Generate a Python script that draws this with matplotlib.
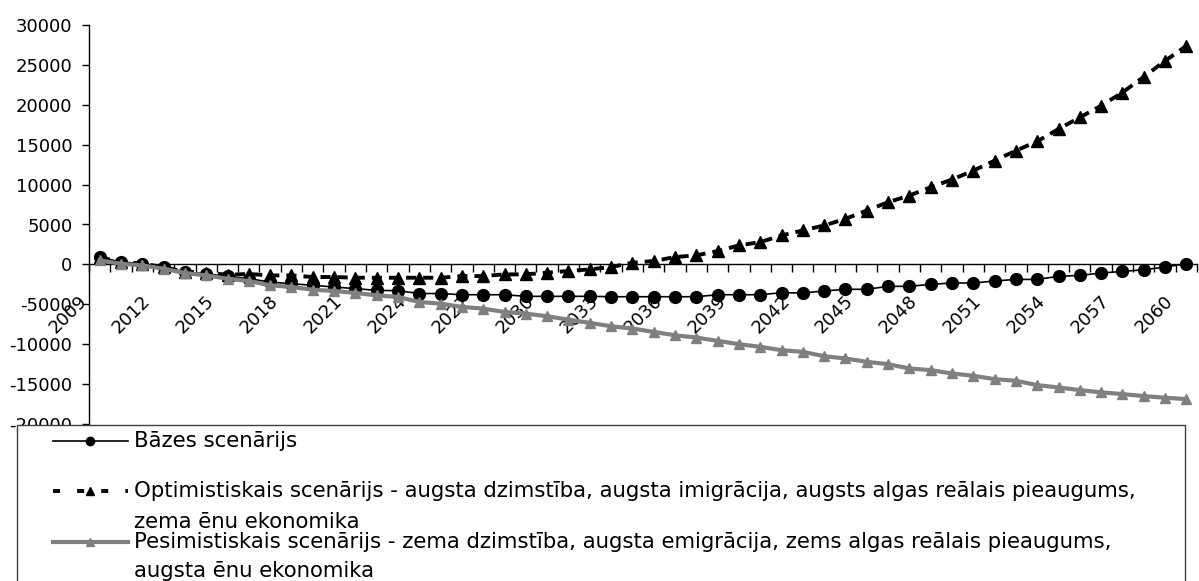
import matplotlib
matplotlib.use("Agg")
import matplotlib.pyplot as plt
from matplotlib.lines import Line2D
from matplotlib.patches import Rectangle
from matplotlib.transforms import ScaledTranslation

plt.rcParams['font.family'] = ['DejaVu Sans']
plt.rcParams['axes.unicode_minus'] = False

years = list(range(2009, 2061))

base = [900, 300, 100, -330, -960, -1170, -1500, -1790, -2210, -2420,
        -2620, -2830, -3040, -3250, -3300, -3650, -3650, -3800, -3800, -3800,
        -4000, -4000, -4000, -4000, -4050, -4050, -4050, -4050, -4050, -3800,
        -3800, -3800, -3550, -3580, -3330, -3120, -3120, -2750, -2750, -2500,
        -2330, -2330, -2080, -1880, -1880, -1500, -1380, -1080, -880, -670,
        -330, 80]

optimistic = [900, 300, 100, -350, -900, -1050, -1300, -1200, -1380, -1380,
              -1580, -1580, -1670, -1670, -1670, -1670, -1670, -1460, -1460, -1250,
              -1250, -1040, -830, -620, -330, 210, 420, 920, 1130, 1670,
              2380, 2790, 3630, 4250, 4880, 5710, 6750, 7790, 8630, 9670,
              10630, 11750, 13000, 14250, 15420, 16960, 18420, 19880, 21540, 23500,
              25500, 27380]

pessimistic = [500, 80, -130, -540, -1080, -1380, -1790, -2080, -2620, -2830,
               -3170, -3330, -3580, -3880, -4080, -4710, -4920, -5330, -5540, -5960,
               -6170, -6500, -6920, -7330, -7750, -8040, -8460, -8880, -9170, -9580,
               -10000, -10330, -10750, -10960, -11500, -11790, -12210, -12500, -13040, -13250,
               -13670, -13960, -14380, -14580, -15130, -15420, -15750, -16040, -16250, -16500,
               -16710, -16880]

labels = ["Bāzes scenārijs",
          ["Optimistiskais scenārijs - augsta dzimstība, augsta imigrācija, augsts algas reālais pieaugums,",
           "zema ēnu ekonomika"],
          ["Pesimistiskais scenārijs - zema dzimstība, augsta emigrācija, zems algas reālais pieaugums,",
           "augsta ēnu ekonomika"]]

W, H = 1199, 581
fig = plt.figure(figsize=(W / 100, H / 100), dpi=100)
ax = fig.add_axes([89 / W, 1 - 424 / H, (1197 - 89) / W, (424 - 25) / H])

x = list(range(len(years)))
ax.plot(x, base, color='black', lw=1.2, marker='o', ms=8.5, zorder=3)
ax.plot(x, optimistic, color='black', lw=2.8, ls=(0, (2.6, 1.8)), marker='^', ms=8.5, zorder=4)
ax.plot(x, pessimistic, color='#808080', lw=3.0, marker='^', ms=6.5, zorder=5)

ax.set_xlim(-0.5, len(years) - 0.5)
ax.set_ylim(-20000, 30000)
ax.set_yticks(range(-20000, 30001, 5000))
ax.tick_params(axis='y', direction='out', length=5, width=1, labelsize=13, pad=7)

ax.spines['top'].set_visible(False)
ax.spines['right'].set_visible(False)
ax.spines['bottom'].set_position(('data', 0))
ax.spines['left'].set_linewidth(1)
ax.spines['bottom'].set_linewidth(1)

label_idx = list(range(0, len(years), 3))
ax.set_xticks(label_idx)
ax.set_xticklabels([str(years[i]) for i in label_idx])
ax.set_xticks([i + 0.5 for i in range(-1, len(years))], minor=True)
ax.tick_params(axis='x', which='major', length=0, labelsize=13, pad=20)
ax.tick_params(axis='x', which='minor', direction='out', length=6, width=1)
for lab in ax.get_xticklabels():
    lab.set_rotation(45)
    lab.set_ha('right')
    lab.set_va('top')
    lab.set_rotation_mode('anchor')
    lab.set_transform(lab.get_transform() + ScaledTranslation(-16 / 72, 0, fig.dpi_scale_trans))

# legend box
def fx(px):
    return px / W

def fy(py):
    return 1 - py / H

rect = Rectangle((fx(17), fy(600)), fx(1185) - fx(17), fy(425) - fy(600),
                 transform=fig.transFigure, facecolor='white', edgecolor='#404040',
                 lw=1, zorder=10)
fig.add_artist(rect)

hx0, hx1 = fx(53), fx(128)
hm = fx(90)
tx = fx(134)
fs = 15.3

y1 = fy(441)
fig.add_artist(Line2D([hx0, hx1], [y1, y1], color='black', lw=1.2, transform=fig.transFigure, zorder=11))
fig.add_artist(Line2D([hm], [y1], color='black', marker='o', ms=6, transform=fig.transFigure, zorder=12))
fig.text(tx, y1, labels[0], fontsize=fs, va='center', ha='left', zorder=12)

y2 = fy(491)
fig.add_artist(Line2D([hx0, hx1], [y2, y2], color='black', lw=2.8, ls=(0, (1.8, 4.4)),
                      transform=fig.transFigure, zorder=11))
fig.add_artist(Line2D([hm], [y2], color='black', marker='^', ms=5.5, transform=fig.transFigure, zorder=12))
fig.text(tx, y2, labels[1][0], fontsize=fs, va='center', ha='left', zorder=12)
fig.text(tx, fy(522), labels[1][1], fontsize=fs, va='center', ha='left', zorder=12)

y3 = fy(542)
fig.add_artist(Line2D([hx0, hx1], [y3, y3], color='#808080', lw=3.0, transform=fig.transFigure, zorder=11))
fig.add_artist(Line2D([hm], [y3], color='#808080', marker='^', ms=5.5, transform=fig.transFigure, zorder=12))
fig.text(tx, y3, labels[2][0], fontsize=fs, va='center', ha='left', zorder=12)
fig.text(tx, fy(571), labels[2][1], fontsize=fs, va='center', ha='left', zorder=12)

fig.savefig("out.png", dpi=100)
